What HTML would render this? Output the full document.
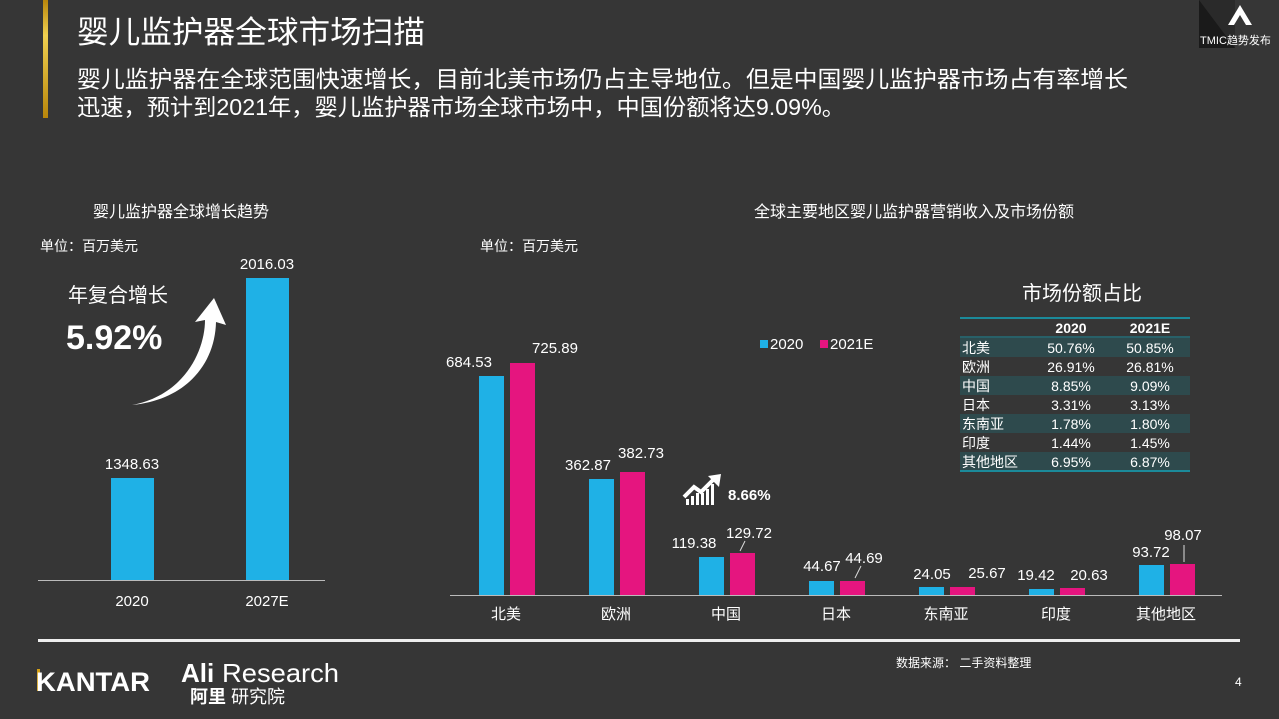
<!DOCTYPE html>
<html><head><meta charset="utf-8"><style>
html,body{margin:0;padding:0;background:#363636;}
svg{display:block;font-family:"Liberation Sans","Noto Sans CJK SC",sans-serif;}
</style></head><body>
<svg width="1279" height="719" viewBox="0 0 1279 719" xmlns="http://www.w3.org/2000/svg">
<defs><linearGradient id="gold" x1="0" y1="0" x2="0" y2="1"><stop offset="0" stop-color="#b8860b"/><stop offset="0.3" stop-color="#f0d050"/><stop offset="1" stop-color="#b8860b"/></linearGradient></defs>
<rect width="1279" height="719" fill="#363636"/>
<rect x="43" y="0" width="5" height="118" fill="url(#gold)"/>
<text x="77" y="43" font-size="31" fill="#fff" textLength="348" lengthAdjust="spacingAndGlyphs">婴儿监护器全球市场扫描</text>
<text x="77" y="87" font-size="23" fill="#fff" textLength="1051" lengthAdjust="spacingAndGlyphs">婴儿监护器在全球范围快速增长，目前北美市场仍占主导地位。但是中国婴儿监护器市场占有率增长</text>
<text x="77" y="115" font-size="23" fill="#fff" textLength="768" lengthAdjust="spacingAndGlyphs">迅速，预计到2021年，婴儿监护器市场全球市场中，中国份额将达9.09%。</text>
<!-- TMIC logo -->
<polygon points="1199,0 1235,0 1235,48 1199,48 1199,0" fill="#2a2a2a"/>
<polygon points="1199,0 1235,48 1199,48" fill="#1a1a1a"/>
<polygon points="1240,5 1252,25 1246,25 1240,15 1234,25 1228,25" fill="#fff"/>
<text x="1200" y="44" font-size="11" fill="#fff">TMIC趋势发布</text>

<!-- left chart -->
<text x="181" y="217" font-size="16" fill="#fff" text-anchor="middle">婴儿监护器全球增长趋势</text>
<text x="40" y="251" font-size="14" fill="#fff">单位：百万美元</text>
<text x="68" y="302" font-size="20" fill="#fff">年复合增长</text>
<text x="66" y="349" font-size="34" font-weight="bold" fill="#fff">5.92%</text>
<path d="M132,405 C185,395 205,350 205,320 L195,322 L214,298 L226,325 L216,322 C215,365 185,400 132,405 Z" fill="#fff"/>
<rect x="111" y="478" width="43" height="102" fill="#1fb1e6"/>
<rect x="246" y="278" width="43" height="302" fill="#1fb1e6"/>
<line x1="38" y1="580.5" x2="325" y2="580.5" stroke="#bbb" stroke-width="1"/>
<text x="132" y="469" font-size="15" fill="#fff" text-anchor="middle">1348.63</text>
<text x="267" y="269" font-size="15" fill="#fff" text-anchor="middle">2016.03</text>
<text x="132" y="606" font-size="15" fill="#fff" text-anchor="middle">2020</text>
<text x="267" y="606" font-size="15" fill="#fff" text-anchor="middle">2027E</text>

<!-- right chart -->
<text x="914" y="217" font-size="16" fill="#fff" text-anchor="middle">全球主要地区婴儿监护器营销收入及市场份额</text>
<text x="480" y="251" font-size="14" fill="#fff">单位：百万美元</text>
<line x1="450" y1="595.5" x2="1222" y2="595.5" stroke="#bbb" stroke-width="1"/>
<g fill="#1fb1e6">
<rect x="479" y="376" width="25" height="219"/>
<rect x="589" y="479" width="25" height="116"/>
<rect x="699" y="557" width="25" height="38"/>
<rect x="809" y="581" width="25" height="14"/>
<rect x="919" y="587" width="25" height="8"/>
<rect x="1029" y="589" width="25" height="6"/>
<rect x="1139" y="565" width="25" height="30"/>
</g>
<g fill="#e5157f">
<rect x="510" y="363" width="25" height="232"/>
<rect x="620" y="472" width="25" height="123"/>
<rect x="730" y="553" width="25" height="42"/>
<rect x="840" y="581" width="25" height="14"/>
<rect x="950" y="587" width="25" height="8"/>
<rect x="1060" y="588" width="25" height="7"/>
<rect x="1170" y="564" width="25" height="31"/>
</g>
<g font-size="15" fill="#fff" text-anchor="middle">
<text x="469" y="367">684.53</text><text x="555" y="353">725.89</text>
<text x="588" y="470">362.87</text><text x="641" y="458">382.73</text>
<text x="694" y="548">119.38</text><text x="749" y="538">129.72</text>
<text x="822" y="571">44.67</text><text x="864" y="563">44.69</text>
<text x="932" y="579">24.05</text><text x="987" y="578">25.67</text>
<text x="1036" y="580">19.42</text><text x="1089" y="580">20.63</text>
<text x="1151" y="557">93.72</text><text x="1183" y="540">98.07</text>
</g>
<g stroke="#ddd" stroke-width="1"><line x1="745" y1="541" x2="740" y2="551"/><line x1="861" y1="566" x2="855" y2="578"/><line x1="1184" y1="545" x2="1184" y2="562"/></g>
<g font-size="15" fill="#fff" text-anchor="middle">
<text x="506" y="619">北美</text><text x="616" y="619">欧洲</text><text x="726" y="619">中国</text><text x="836" y="619">日本</text><text x="946" y="619">东南亚</text><text x="1056" y="619">印度</text><text x="1166" y="619">其他地区</text>
</g>
<rect x="760" y="340" width="8" height="8" fill="#1fb1e6"/><text x="770" y="349" font-size="15" fill="#fff">2020</text>
<rect x="820" y="340" width="8" height="8" fill="#e5157f"/><text x="830" y="349" font-size="15" fill="#fff">2021E</text>
<!-- growth icon -->
<g fill="#fff"><rect x="686" y="499" width="3" height="6"/><rect x="691" y="496" width="3" height="9"/><rect x="696" y="493" width="3" height="12"/><rect x="701" y="493" width="3" height="12"/><rect x="706" y="489" width="3" height="16"/><rect x="711" y="484" width="3" height="21"/>
<polyline points="684,497 694,487 701,492 714,479" fill="none" stroke="#fff" stroke-width="4"/><polygon points="708,476 721,474 719,487"/></g>
<text x="728" y="500" font-size="15" font-weight="bold" fill="#fff">8.66%</text>

<!-- table -->
<text x="1082" y="300" font-size="20" fill="#fff" text-anchor="middle">市场份额占比</text>
<line x1="960" y1="318" x2="1190" y2="318" stroke="#1b8a9a" stroke-width="2"/>
<g fill="#2e4a4d"><rect x="960" y="338" width="230" height="19"/><rect x="960" y="376" width="230" height="19"/><rect x="960" y="414" width="230" height="19"/><rect x="960" y="452" width="230" height="19"/></g>
<line x1="960" y1="337" x2="1190" y2="337" stroke="#1b8a9a" stroke-width="1"/>
<line x1="960" y1="471" x2="1190" y2="471" stroke="#1b8a9a" stroke-width="2"/>
<g font-size="14" fill="#fff">
<text x="1071" y="333" text-anchor="middle" font-weight="bold">2020</text><text x="1150" y="333" text-anchor="middle" font-weight="bold">2021E</text>
<text x="962" y="353">北美</text><text x="962" y="372">欧洲</text><text x="962" y="391">中国</text><text x="962" y="410">日本</text><text x="962" y="429">东南亚</text><text x="962" y="448">印度</text><text x="962" y="467">其他地区</text>
</g>
<g font-size="14" fill="#fff" text-anchor="middle">
<text x="1071" y="353">50.76%</text><text x="1150" y="353">50.85%</text>
<text x="1071" y="372">26.91%</text><text x="1150" y="372">26.81%</text>
<text x="1071" y="391">8.85%</text><text x="1150" y="391">9.09%</text>
<text x="1071" y="410">3.31%</text><text x="1150" y="410">3.13%</text>
<text x="1071" y="429">1.78%</text><text x="1150" y="429">1.80%</text>
<text x="1071" y="448">1.44%</text><text x="1150" y="448">1.45%</text>
<text x="1071" y="467">6.95%</text><text x="1150" y="467">6.87%</text>
</g>

<!-- footer -->
<rect x="38" y="639" width="1202" height="3" fill="#eee"/>
<rect x="37" y="669" width="3" height="22" fill="#d4a017"/>
<text x="36" y="691" font-size="27" font-weight="bold" fill="#fff" textLength="114" lengthAdjust="spacingAndGlyphs">KANTAR</text>
<text x="181" y="682" font-size="26" font-weight="bold" fill="#fff">Ali</text>
<text x="222" y="682" font-size="26" fill="#fff" textLength="117" lengthAdjust="spacingAndGlyphs">Research</text>
<text x="190" y="703" font-size="18" fill="#fff"><tspan font-weight="bold">阿里</tspan> 研究院</text>
<text x="896" y="667" font-size="12" fill="#fff">数据来源：  二手资料整理</text>
<text x="1235" y="686" font-size="12" fill="#fff">4</text>
</svg>
</body></html>
